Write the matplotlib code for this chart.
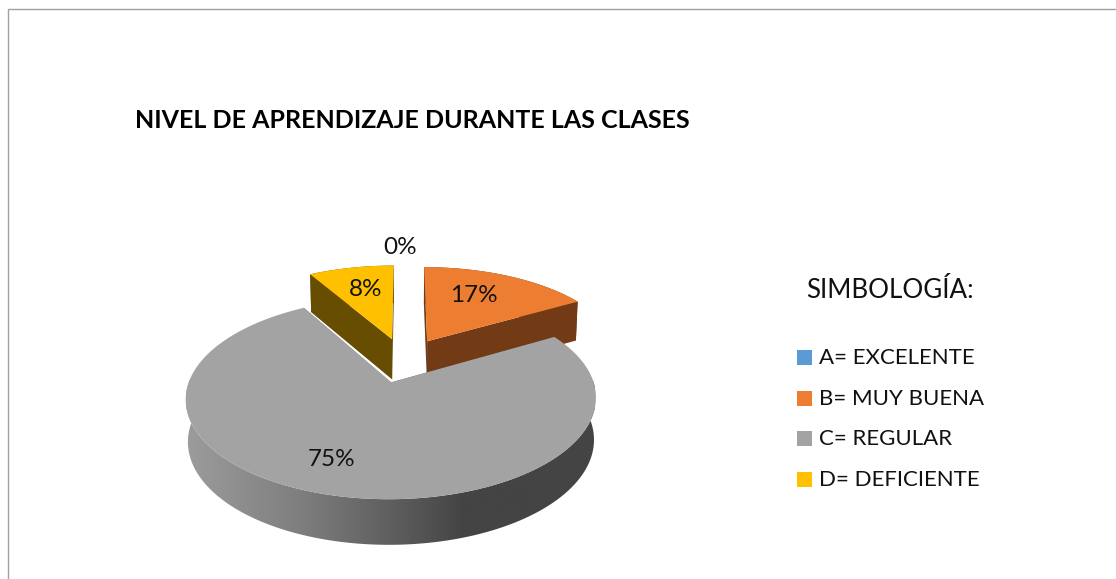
import numpy as np
import matplotlib
matplotlib.use("Agg")
import matplotlib.pyplot as plt
from matplotlib.colors import LinearSegmentedColormap
from matplotlib.patches import Polygon, Rectangle

# data (slice angles give 60, 270 and 30 degrees)
categories = ["A= EXCELENTE", "B= MUY BUENA", "C= REGULAR", "D= DEFICIENTE"]
percents = [0, 16.67, 75, 8.33]
percent_labels = ["0%", "17%", "75%", "8%"]

title = "NIVEL DE APRENDIZAJE DURANTE LAS CLASES"
legend_title = "SIMBOLOGÍA:"

top_colors = ["#5b9bd5", "#ed7d31", "#a3a3a3", "#ffc000"]
side_colors = ["#2e5f8a", "#723b15", "#6e6e6e", "#664d00"]
label_pos = [(400, 248), (474, 296), (332, 459), (366, 289)]

plt.rcParams["font.family"] = ["Lato", "DejaVu Sans"]

# the whole figure is one axes in pixel coordinates
fig = plt.figure(figsize=(11.16, 5.79), dpi=100)
ax = fig.add_axes([0, 0, 1, 1])
ax.set_xlim(0, 1116)
ax.set_ylim(579, 0)
ax.axis("off")

# perspective view of the disc
OX, OY = 404, 360
A, B = 195, 91
K = 0.155
EXPLODE = 0.245
DEPTH = 41
BOTTOM_SCALE = 0.99


def project(u, v, bottom=False):
    w = 1 + K * v
    if bottom:
        return OX + BOTTOM_SCALE * A * u / w, OY - B * v / w + DEPTH / np.sqrt(w)
    return OX + A * u / w, OY - B * v / w


def slice_outline(start, end, bottom=False):
    # start, end are clockwise angles from the top, in radians
    mid = (start + end) / 2
    cu, cv = EXPLODE * np.sin(mid), EXPLODE * np.cos(mid)
    t = np.linspace(start, end, 200)
    x, y = project(cu + np.sin(t), cv + np.cos(t), bottom)
    ax_, ay_ = project(cu, cv, bottom)
    return (ax_, ay_), np.column_stack([x, y])


def draw_slice(start, end, top_color, side_color, zorder):
    apex, arc = slice_outline(start, end)
    apex_b, arc_b = slice_outline(start, end, bottom=True)

    # outer wall, with a horizontal shading for the big slice
    wall = np.vstack([arc, arc_b[::-1]])
    if end - start > np.pi:
        patch = Polygon(wall, closed=True, fc="none", ec="none", zorder=zorder)
        ax.add_patch(patch)
        cmap = LinearSegmentedColormap.from_list(
            "side", [(0, "#9c9c9c"), (0.28, "#7e7e7e"), (0.5, "#5f5f5f"),
                     (0.68, "#444444"), (1, "#444444")])
        im = ax.imshow(np.linspace(0, 1, 256)[None, :], cmap=cmap, aspect="auto",
                       extent=(186, 595, 579, 380), zorder=zorder)
        im.set_clip_path(patch)
    else:
        ax.add_patch(Polygon(wall, closed=True, fc=side_color, ec="none", zorder=zorder))

    # cut faces
    for corner, corner_b in ((arc[0], arc_b[0]), (arc[-1], arc_b[-1])):
        face = [apex, corner, corner_b, apex_b]
        ax.add_patch(Polygon(face, closed=True, fc=side_color, ec="none", zorder=zorder))

    # top face
    ax.add_patch(Polygon(np.vstack([[apex], arc]), closed=True, fc=top_color,
                         ec="none", zorder=zorder + 0.5))


# small slices go behind the big one
edges = np.radians(np.cumsum([0] + percents) * 3.6)
order = np.argsort([p > 50 for p in percents], kind="stable")
for n, i in enumerate(order):
    if percents[i] == 0:
        continue
    draw_slice(edges[i], edges[i + 1], top_colors[i], side_colors[i], 2 + n)
ax.set_xlim(0, 1116)
ax.set_ylim(579, 0)

for label, (x, y) in zip(percent_labels, label_pos):
    ax.text(x, y, label, fontsize=17.5, color="#111111", ha="center", va="center", zorder=10)

ax.text(135, 121, title, fontsize=18, fontweight="bold", color="black", ha="left", va="center")
ax.text(806, 290, legend_title, fontsize=18.7, color="#111111", ha="left", va="center")

legend_y = [357, 398, 438, 479]
for name, color, y in zip(categories, top_colors, legend_y):
    ax.add_patch(Rectangle((797, y - 7.5), 15, 15, fc=color, ec="none"))
    ax.text(819, y + 1, name, fontsize=16, color="#111111", ha="left", va="center")

# chart frame, only the top and left sides show
ax.plot([7.5, 7.5, 1116], [579, 8.5, 8.5], color="#a0a0a0", lw=1, solid_joinstyle="miter")

fig.savefig("out.png", dpi=100)
